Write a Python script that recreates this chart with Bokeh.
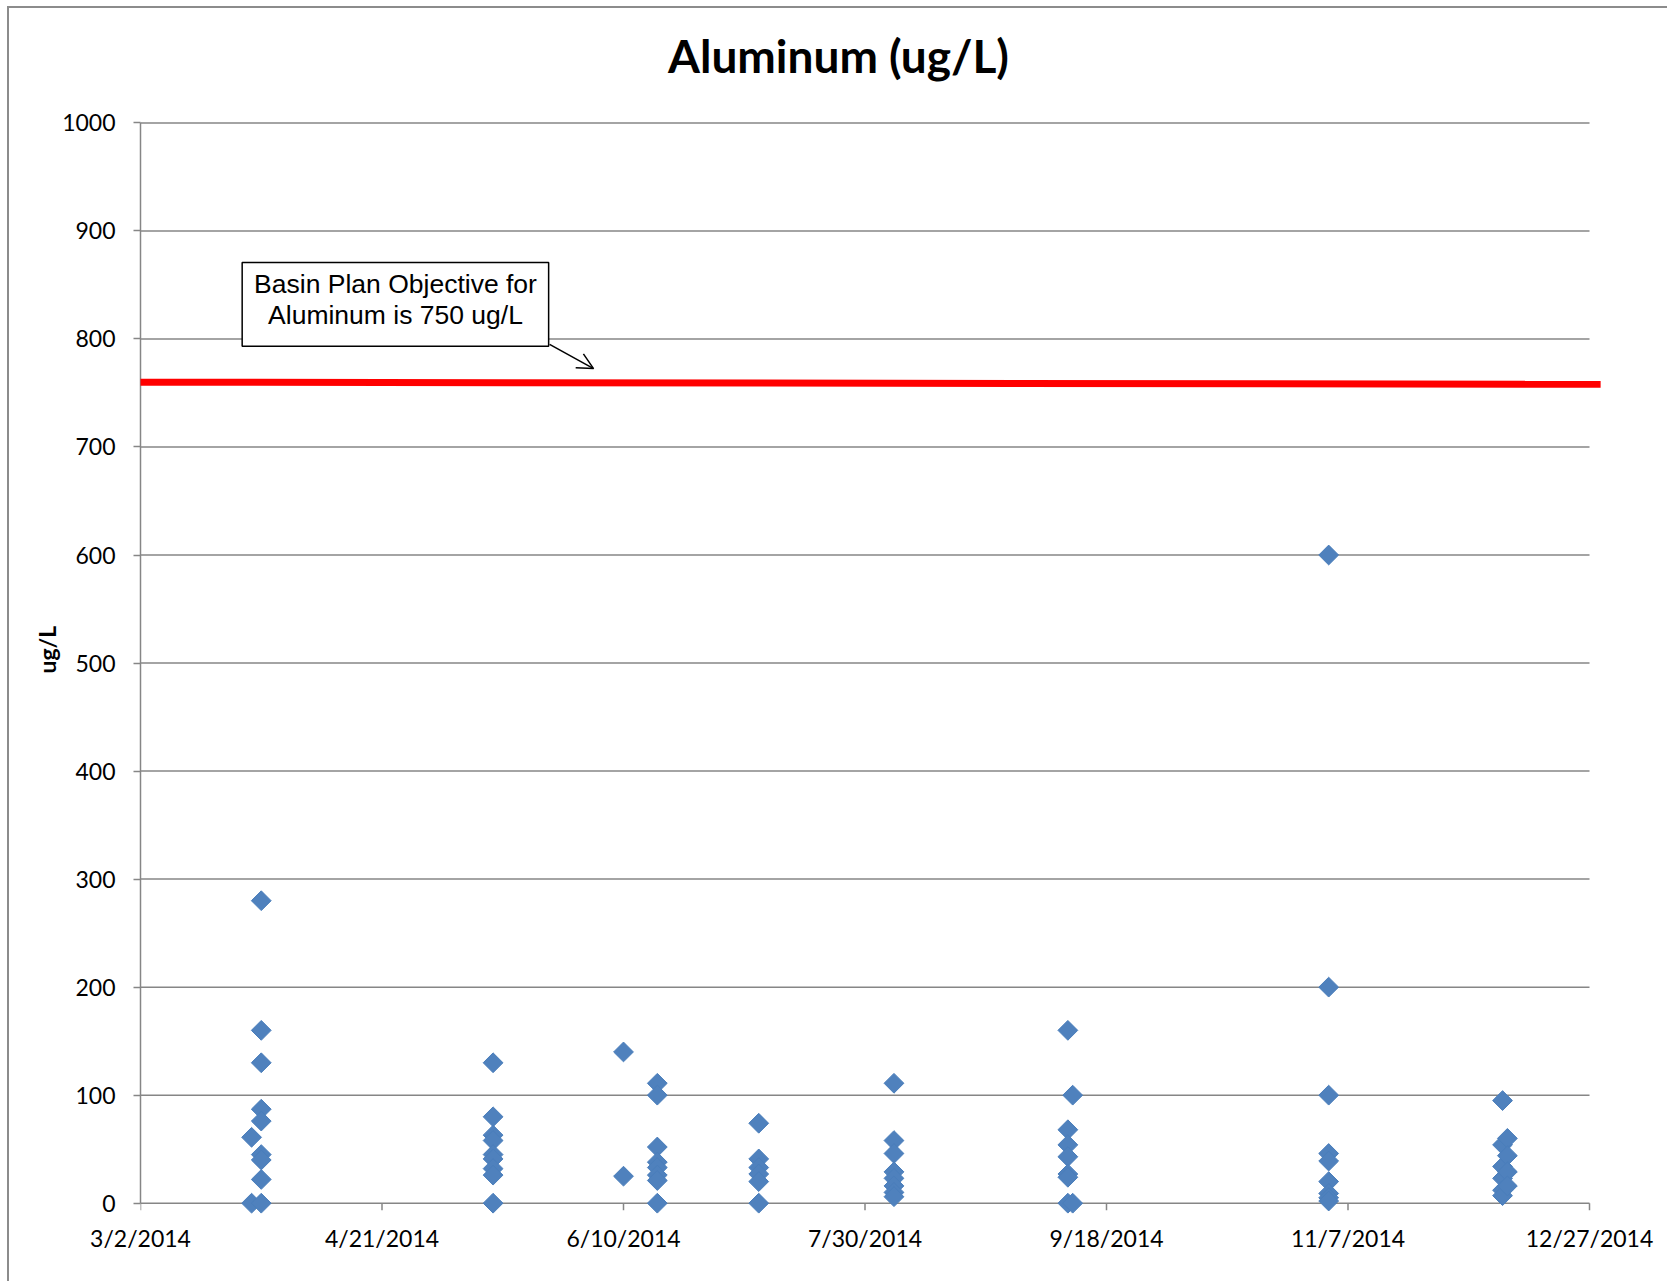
import numpy as np
import pandas as pd
from bokeh.plotting import figure
from bokeh.models import (FixedTicker, CustomJSTickFormatter, Label, Arrow, OpenHead,
                          BoxAnnotation, ColumnDataSource, Range1d, Title)
from bokeh.embed import file_html
from bokeh.resources import INLINE

# ---------------- data ----------------
sample_dates = (
    ["3/25/2014"] * 2 + ["3/27/2014"] * 9 +
    ["5/14/2014"] * 9 +
    ["6/10/2014"] * 2 +
    ["6/17/2014"] * 8 +
    ["7/8/2014"] * 6 +
    ["8/5/2014"] * 8 +
    ["9/10/2014"] * 7 + ["9/11/2014"] * 2 +
    ["11/3/2014"] * 9 +
    ["12/9/2014"] * 6 + ["12/10/2014"] * 4
)
aluminum_ugL = (
    [61, 0] + [280, 160, 130, 87, 76, 45, 40, 22, 0] +
    [130, 80, 63, 58, 45, 41, 32, 26, 0] +
    [140, 25] +
    [111, 100, 52, 38, 33, 26, 21, 0] +
    [74, 41, 33, 27, 20, 0] +
    [111, 58, 46, 29, 23, 16, 10, 6] +
    [160, 68, 54, 43, 27, 24, 0] + [100, 0] +
    [600, 200, 100, 46, 39, 20, 9, 5, 2] +
    [95, 54, 34, 23, 12, 7] + [60, 44, 29, 16]
)
x_tick_labels = ["3/2/2014", "4/21/2014", "6/10/2014", "7/30/2014",
                 "9/18/2014", "11/7/2014", "12/27/2014"]
y_ticks = [0, 100, 200, 300, 400, 500, 600, 700, 800, 900, 1000]
objective_label = ["Basin Plan Objective for", "Aluminum is 750 ug/L"]
objective_line = [760, 758]

# ---------------- geometry (window pixels) ----------------
OX, OY = 9, 8                     # canvas origin in window (margin + border)
AX_L, AX_R = 140.0, 1589.0        # x of 3/2/2014 and 12/27/2014
AX_T, AX_B = 122.4, 1202.7        # y of 1000 and 0
WIN_W, WIN_H = 1669, 1283
FRAME_B = 1216.0
ppd = (AX_R - AX_L) / 300.0       # px per day
ppu = (AX_B - AX_T) / 1000.0      # px per unit

DAY = 86400000.0
tick_ts = pd.to_datetime(x_tick_labels, format="%m/%d/%Y")
tick_ms = [(t - pd.Timestamp("1970-01-01")) / pd.Timedelta(milliseconds=1) for t in tick_ts]
x0 = tick_ms[0]


def xd(days):
    return x0 + days * DAY


x_end_days = (WIN_W - AX_L) / ppd
y_top = (AX_B - OY) / ppu
y_bot = -(FRAME_B - AX_B) / ppu

src = ColumnDataSource(dict(
    date=pd.to_datetime(sample_dates, format="%m/%d/%Y"),
    al=aluminum_ugL,
))

W, H = WIN_W - OX, WIN_H - OY
p = figure(width=W, height=H, x_axis_type="datetime", output_backend="svg",
           toolbar_location=None, title=None,
           x_range=Range1d(x0, xd(x_end_days)), y_range=Range1d(y_bot, y_top),
           min_border_left=int(AX_L - OX), min_border_right=0, min_border_top=0,
           min_border_bottom=int(WIN_H - FRAME_B), margin=(6, 0, 0, 7))
p.styles = {"border-top": "2px solid #8c8c8c", "border-left": "2px solid #8c8c8c"}
p.outline_line_color = None
p.background_fill_color = "white"
p.border_fill_color = "white"

grid_color = "#868686"
p.xgrid.grid_line_color = None
p.ygrid.grid_line_color = None

# horizontal gridlines (0 doubles as the x axis line) and x tick marks
p.segment(x0=[tick_ms[0]] * len(y_ticks), y0=y_ticks, x1=[tick_ms[-1]] * len(y_ticks),
          y1=y_ticks, line_color=grid_color, line_width=1.5)
p.segment(x0=tick_ms, y0=[0] * len(tick_ms), x1=tick_ms, y1=[-7 / ppu] * len(tick_ms),
          line_color=grid_color, line_width=1.5)

p.yaxis.ticker = FixedTicker(ticks=y_ticks)
p.yaxis.bounds = (0, 1000)
p.xaxis.ticker = FixedTicker(ticks=tick_ms)
p.xaxis.formatter = CustomJSTickFormatter(code="""
const d = new Date(tick);
return (d.getUTCMonth() + 1) + "/" + d.getUTCDate() + "/" + d.getUTCFullYear();
""")
for ax in (p.xaxis[0], p.yaxis[0]):
    ax.axis_line_color = grid_color
    ax.axis_line_width = 1.5
    ax.major_tick_line_color = grid_color
    ax.major_tick_line_width = 1.5
    ax.major_tick_out = 7
    ax.major_tick_in = 0
    ax.minor_tick_line_color = None
    ax.major_label_text_font = "Lato"
    ax.major_label_text_font_size = "23px"
    ax.major_label_text_color = "black"
p.xaxis.axis_line_color = None
p.xaxis.major_tick_line_color = None
p.xaxis.major_tick_out = 0
p.yaxis.major_label_standoff = 18
p.xaxis.major_label_standoff = 7

# points
p.scatter("date", "al", source=src, marker="square", angle=np.pi / 4, size=14,
          fill_color="#4F81BD", line_color="#4A7EBB", line_width=1)

# objective line (red)
p.add_layout(Arrow(end=None, x_start=xd(-1.4), y_start=objective_line[0],
                   x_end=xd(302.3), y_end=objective_line[1],
                   line_color="#FF0000", line_width=7))

# callout box
p.add_layout(BoxAnnotation(left=xd(21.05), right=xd(84.5), top=870.7, bottom=793.2,
                           fill_color="white", fill_alpha=1.0,
                           line_color="black", line_width=1.5, line_alpha=1.0))
for txt, yv in zip(objective_label, [851.3, 822.0]):
    p.add_layout(Label(x=xd(52.8), y=yv, text=txt, text_align="center",
                       text_baseline="middle", text_font="Liberation Sans",
                       text_font_size="26.5px", text_color="black"))
p.add_layout(Arrow(end=OpenHead(size=16, line_width=1.5, line_color="black"),
                   x_start=xd(84.7), y_start=795, x_end=xd(93.8), y_end=772.6,
                   line_color="black", line_width=1.5))

# title (inside the enlarged frame) and axis label
p.add_layout(Label(x=xd((838 - AX_L) / ppd), y=(AX_B - 55) / ppu, text="Aluminum (ug/L)",
                   text_align="center", text_baseline="alphabetic", text_font="Lato",
                   text_font_style="bold", text_font_size="46px", text_color="black"))
p.add_layout(Title(text="ug/L", align="left", offset=543, standoff=-4,
                   text_font="Lato", text_font_style="bold", text_font_size="23px",
                   text_color="black", vertical_align="middle"), "left")

open("out.html", "w").write(file_html(p, INLINE))
